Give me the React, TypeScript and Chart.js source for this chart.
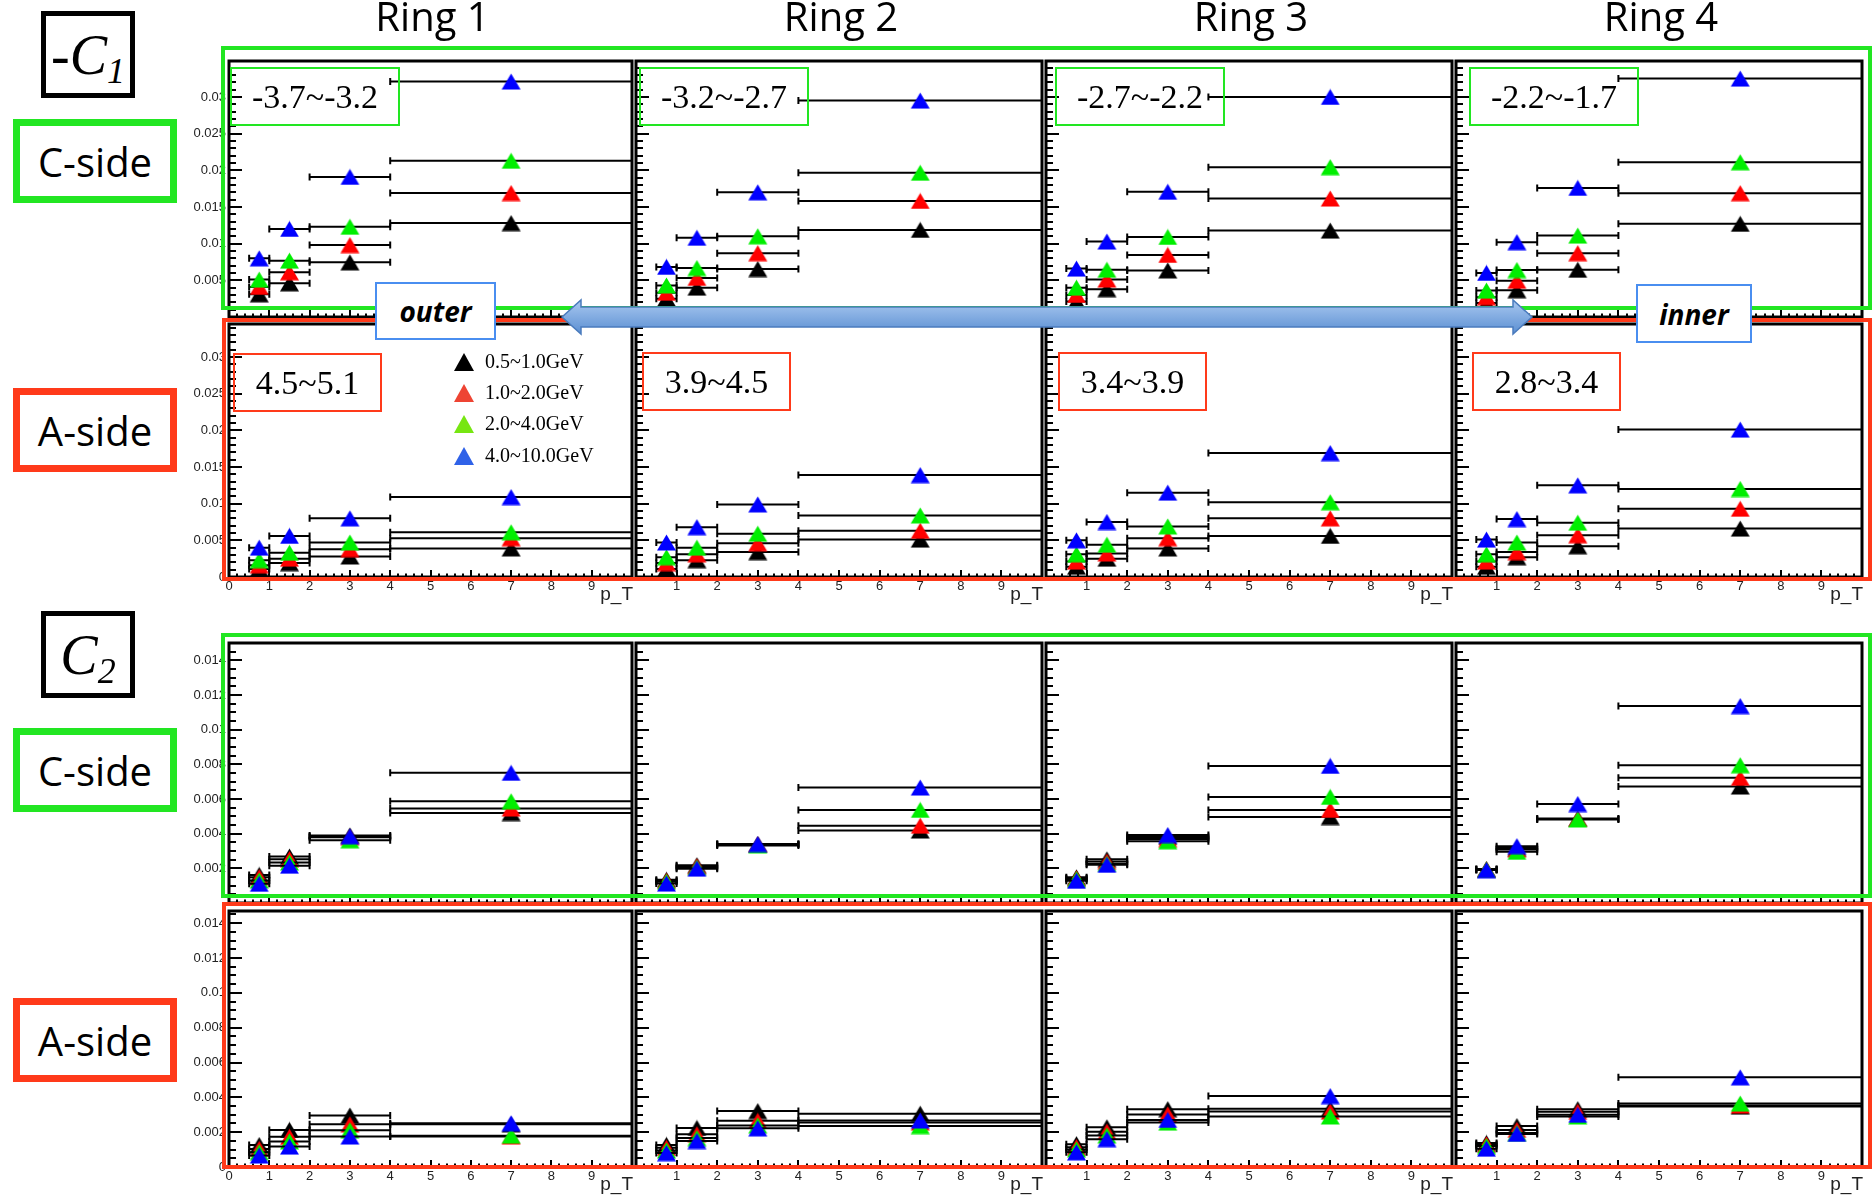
import React, { useEffect, useRef } from 'react';
import { Chart, registerables } from 'chart.js';

Chart.register(...registerables);

// ---------------- data ----------------
const ptBinCenters = [0.75, 1.5, 3, 7];
const ptBinLow = [0.5, 1, 2, 4];
const ptBinHigh = [1, 2, 4, 10];
const seriesLabels = ['0.5~1.0GeV', '1.0~2.0GeV', '2.0~4.0GeV', '4.0~10.0GeV'];
const ringTitles = ['Ring 1', 'Ring 2', 'Ring 3', 'Ring 4'];
const cSideEtaRanges = ['-3.7~-3.2', '-3.2~-2.7', '-2.7~-2.2', '-2.2~-1.7'];
const aSideEtaRanges = ['4.5~5.1', '3.9~4.5', '3.4~3.9', '2.8~3.4'];
const xTickLabels = ['0', '1', '2', '3', '4', '5', '6', '7', '8', '9'];
const c1YTickLabels = ['0', '0.005', '0.01', '0.015', '0.02', '0.025', '0.03'];
const c2YTickLabels = ['0', '0.002', '0.004', '0.006', '0.008', '0.01', '0.012', '0.014'];

// each: [black, red, green, blue] x pT bins
const c1CSideRing1 = [
  [0.0031, 0.0046, 0.00745, 0.0128],
  [0.0041, 0.0061, 0.0098, 0.0169],
  [0.0051, 0.00768, 0.0123, 0.0213],
  [0.008, 0.012, 0.0191, 0.0321],
];
const c1CSideRing2 = [
  [0.0025, 0.004, 0.00654, 0.01187],
  [0.0033, 0.00533, 0.0087, 0.01582],
  [0.0043, 0.00668, 0.011, 0.01966],
  [0.00683, 0.0108, 0.017, 0.0295],
];
const c1CSideRing3 = [
  [0.0021, 0.0038, 0.00635, 0.01178],
  [0.003, 0.0051, 0.00846, 0.01615],
  [0.004, 0.00644, 0.01091, 0.02043],
  [0.0066, 0.01029, 0.01707, 0.03],
];
const c1CSideRing4 = [
  [0.0019, 0.00365, 0.00644, 0.0127],
  [0.0027, 0.00495, 0.0087, 0.01688],
  [0.0036, 0.0064, 0.0111, 0.0211],
  [0.006, 0.0102, 0.0176, 0.0325],
];
const c1ASideRing1 = [
  [0.0011, 0.0019, 0.0028, 0.0039],
  [0.0016, 0.0025, 0.0038, 0.0053],
  [0.0023, 0.0033, 0.0047, 0.0061],
  [0.004, 0.0056, 0.008, 0.0109],
];
const c1ASideRing2 = [
  [0.0011, 0.0023, 0.0034, 0.0051],
  [0.0019, 0.0031, 0.0046, 0.0063],
  [0.0027, 0.004, 0.0059, 0.0084],
  [0.0047, 0.0068, 0.0099, 0.0139],
];
const c1ASideRing3 = [
  [0.0014, 0.0025, 0.0039, 0.0056],
  [0.0021, 0.0032, 0.0053, 0.008],
  [0.0031, 0.0044, 0.0069, 0.0102],
  [0.005, 0.0075, 0.0115, 0.0169],
];
const c1ASideRing4 = [
  [0.0014, 0.0027, 0.0042, 0.0066],
  [0.0021, 0.0034, 0.0057, 0.0093],
  [0.0031, 0.0047, 0.0074, 0.012],
  [0.0051, 0.0079, 0.0125, 0.0201],
];
const c2CSideRing1 = [
  [0.00162, 0.00268, 0.0039, 0.00519],
  [0.00149, 0.00253, 0.0038, 0.00545],
  [0.0013, 0.00234, 0.00362, 0.00587],
  [0.00111, 0.00215, 0.00385, 0.00751],
];
const c2CSideRing2 = [
  [0.00134, 0.00218, 0.0034, 0.00418],
  [0.00128, 0.00212, 0.00338, 0.00446],
  [0.00122, 0.00204, 0.00332, 0.00537],
  [0.00112, 0.00198, 0.0034, 0.00666],
];
const c2CSideRing3 = [
  [0.00148, 0.00252, 0.00381, 0.00496],
  [0.00143, 0.00239, 0.00369, 0.00537],
  [0.00138, 0.00226, 0.00356, 0.00612],
  [0.00128, 0.0022, 0.00392, 0.00791],
];
const c2CSideRing4 = [
  [0.00196, 0.00317, 0.00487, 0.00672],
  [0.00194, 0.00308, 0.00485, 0.00722],
  [0.00192, 0.00295, 0.00482, 0.00795],
  [0.0019, 0.00328, 0.00571, 0.01136],
];
const c2ASideRing1 = [
  [0.00126, 0.00213, 0.00296, 0.00245],
  [0.00104, 0.00173, 0.00245, 0.00175],
  [0.00085, 0.00147, 0.00211, 0.0018],
  [0.00066, 0.00117, 0.00175, 0.00251],
];
const c2ASideRing2 = [
  [0.00127, 0.00224, 0.00321, 0.00306],
  [0.0011, 0.00188, 0.00265, 0.00256],
  [0.00095, 0.00166, 0.00239, 0.00235],
  [0.0008, 0.00149, 0.00222, 0.00267],
];
const c2ASideRing3 = [
  [0.00131, 0.00228, 0.00332, 0.00334],
  [0.00114, 0.00203, 0.00302, 0.00318],
  [0.00101, 0.00181, 0.00255, 0.0029],
  [0.00084, 0.0016, 0.0027, 0.00407],
];
const c2ASideRing4 = [
  [0.00138, 0.00235, 0.00332, 0.00347],
  [0.0013, 0.00213, 0.00317, 0.00353],
  [0.0012, 0.00195, 0.0029, 0.00364],
  [0.00105, 0.0019, 0.003, 0.00515],
];

// ---------------- layout / style ----------------
const markerColors = ['#000000', '#ff0000', '#00ee00', '#0000ff'];
const legendColors = ['#000000', '#ee4433', '#77e612', '#2f62e8'];
const GREEN = '#22e622';
const RED = '#ff3a1a';
const panelLeft = [229, 636, 1046, 1456];
const panelRight = [636, 1046, 1456, 1866];
const PAD_L = 52, PAD_R = 6, PAD_T = 6, PAD_B = 36;

type RowCfg = {
  top: number; bottom: number; ymax: number; major: number; minor: number;
  yLabels: string[]; showZero: boolean; showX: boolean; panels: number[][][];
};

const rows: RowCfg[] = [
  { top: 57, bottom: 317, ymax: 0.0349, major: 0.005, minor: 0.001, yLabels: c1YTickLabels, showZero: false, showX: false,
    panels: [c1CSideRing1, c1CSideRing2, c1CSideRing3, c1CSideRing4] },
  { top: 320, bottom: 577, ymax: 0.0345, major: 0.005, minor: 0.001, yLabels: c1YTickLabels, showZero: true, showX: true,
    panels: [c1ASideRing1, c1ASideRing2, c1ASideRing3, c1ASideRing4] },
  { top: 639, bottom: 903, ymax: 0.015, major: 0.002, minor: 0.0005, yLabels: c2YTickLabels, showZero: false, showX: false,
    panels: [c2CSideRing1, c2CSideRing2, c2CSideRing3, c2CSideRing4] },
  { top: 907, bottom: 1167, ymax: 0.0147, major: 0.002, minor: 0.0005, yLabels: c2YTickLabels, showZero: true, showX: true,
    panels: [c2ASideRing1, c2ASideRing2, c2ASideRing3, c2ASideRing4] },
];

function makeTriangle(color: string): HTMLCanvasElement {
  const c = document.createElement('canvas');
  c.width = 21; c.height = 17;
  const g = c.getContext('2d')!;
  g.fillStyle = color;
  g.beginPath();
  g.moveTo(1, 16.5); g.lineTo(20, 16.5); g.lineTo(10.5, 0.5); g.closePath();
  g.fill();
  return c;
}

const rootAxesPlugin = {
  id: 'rootAxes',
  beforeDatasetsDraw(chart: any, _args: any, opts: any) {
    const { ctx, chartArea: a, scales } = chart;
    const x = scales.x, y = scales.y;
    ctx.save();
    ctx.strokeStyle = '#000';
    ctx.lineWidth = 2;
    ctx.beginPath();
    const nMinor = Math.floor(opts.ymax / opts.minor + 1e-6);
    const per = Math.round(opts.major / opts.minor);
    for (let k = 0; k <= nMinor; k++) {
      const py = Math.round(y.getPixelForValue(k * opts.minor));
      const len = k % per === 0 ? 13 : 7;
      ctx.moveTo(a.left, py); ctx.lineTo(a.left + len, py);
    }
    for (let k = 0; k <= 50; k++) {
      const px = Math.round(x.getPixelForValue(k * 0.2));
      const len = k % 5 === 0 ? 7 : 3.5;
      ctx.moveTo(px, a.bottom); ctx.lineTo(px, a.bottom - len);
    }
    ctx.stroke();
    ctx.lineWidth = 3;
    ctx.strokeRect(a.left, a.top, a.right - a.left, a.bottom - a.top);
    ctx.restore();
  },
  beforeDatasetDraw(chart: any, args: any) {
    const { ctx, chartArea: a, scales } = chart;
    const ds = chart.data.datasets[args.index];
    const meta = args.meta;
    ctx.save();
    ctx.beginPath();
    ctx.rect(a.left, a.top - 2, a.right - a.left, a.bottom - a.top + 4);
    ctx.clip();
    ctx.strokeStyle = '#000';
    ctx.lineWidth = 2;
    ctx.beginPath();
    meta.data.forEach((el: any, i: number) => {
      const raw = ds.data[i];
      const x1 = scales.x.getPixelForValue(raw.xLow);
      const x2 = scales.x.getPixelForValue(raw.xHigh);
      const py = el.y;
      ctx.moveTo(x1, py); ctx.lineTo(x2, py);
      ctx.moveTo(x1, py - 3.5); ctx.lineTo(x1, py + 3.5);
      ctx.moveTo(x2, py - 3.5); ctx.lineTo(x2, py + 3.5);
    });
    ctx.stroke();
    ctx.restore();
  },
  afterDraw(chart: any, _args: any, opts: any) {
    const { ctx, chartArea: a, scales } = chart;
    ctx.save();
    ctx.fillStyle = '#222';
    if (opts.showY) {
      ctx.font = '13px "Liberation Sans", Arial, sans-serif';
      ctx.textAlign = 'right';
      ctx.textBaseline = 'middle';
      opts.yLabels.forEach((lab: string) => {
        const v = parseFloat(lab);
        if (v === 0 && !opts.showZero) return;
        ctx.fillText(lab, a.left - 3, scales.y.getPixelForValue(v));
      });
    }
    if (opts.showX) {
      ctx.font = '13px "Liberation Sans", Arial, sans-serif';
      ctx.textAlign = 'center';
      ctx.textBaseline = 'top';
      xTickLabels.forEach((lab: string) => {
        const v = parseFloat(lab);
        if (v === 0 && !opts.showY) return;
        ctx.fillText(lab, scales.x.getPixelForValue(v), a.bottom + 3);
      });
      ctx.font = '19px "Liberation Sans", Arial, sans-serif';
      ctx.textAlign = 'right';
      ctx.textBaseline = 'alphabetic';
      ctx.fillText('p_T', a.right + 1, a.bottom + 23);
    }
    ctx.restore();
  },
};

function Panel({ row, ring }: { row: number; ring: number }) {
  const ref = useRef<HTMLCanvasElement>(null);
  const cfg = rows[row];
  const L = panelLeft[ring], R = panelRight[ring];
  const w = R - L + PAD_L + PAD_R;
  const h = cfg.bottom - cfg.top + PAD_T + PAD_B;
  useEffect(() => {
    const values = cfg.panels[ring];
    const tris = markerColors.map(makeTriangle);
    const chart = new Chart(ref.current!, {
      type: 'scatter',
      data: {
        datasets: seriesLabels.map((label, s) => ({
          label,
          data: ptBinCenters.map((x, i) => ({ x, y: values[s][i], xLow: ptBinLow[i], xHigh: ptBinHigh[i] })),
          pointStyle: tris[s],
          pointRadius: 9,
          order: 4 - s,
          showLine: false,
        })),
      } as any,
      options: {
        animation: false,
        responsive: false,
        devicePixelRatio: 1,
        events: [],
        layout: { padding: { left: PAD_L, right: PAD_R, top: PAD_T, bottom: PAD_B } },
        scales: {
          x: { type: 'linear', min: 0, max: 10, display: false },
          y: { type: 'linear', min: 0, max: cfg.ymax, display: false },
        },
        plugins: {
          legend: { display: false },
          title: { display: false },
          tooltip: { enabled: false },
          rootAxes: {
            ymax: cfg.ymax, major: cfg.major, minor: cfg.minor,
            yLabels: cfg.yLabels, showZero: cfg.showZero, showX: cfg.showX, showY: ring === 0,
          },
        } as any,
      },
      plugins: [rootAxesPlugin as any],
    });
    return () => chart.destroy();
  }, []);
  return (
    <canvas
      ref={ref}
      width={w}
      height={h}
      style={{ position: 'absolute', left: L - PAD_L, top: cfg.top - PAD_T, width: w, height: h }}
    />
  );
}

const abs = (l: number, t: number, w: number, h: number): React.CSSProperties => ({
  position: 'absolute', left: l, top: t, width: w, height: h, boxSizing: 'border-box',
});

function SideBox({ l, t, text, color }: { l: number; t: number; text: string; color: string }) {
  return (
    <div style={{ ...abs(l, t, 164, 84), border: `7px solid ${color}`, background: '#fff', display: 'flex',
      alignItems: 'center', justifyContent: 'center', font: '40px "Open Sans", sans-serif', color: '#000' }}>
      {text}
    </div>
  );
}

function CoefBox({ t, sign, sub }: { t: number; sign: string; sub: string }) {
  return (
    <div style={{ ...abs(41, t, 94, 87), border: '5px solid #000', background: '#fff', display: 'flex',
      alignItems: 'center', justifyContent: 'center', fontFamily: '"Liberation Serif", serif', color: '#000' }}>
      <span style={{ fontSize: 56, fontStyle: 'italic', lineHeight: '56px' }}>{sign}C</span>
      <span style={{ fontSize: 36, fontStyle: 'italic', lineHeight: '36px', position: 'relative', top: 16 }}>{sub}</span>
    </div>
  );
}

const rangeBoxC = [[230, 67], [639, 67], [1055, 67], [1469, 67]];
const rangeBoxA = [[233, 353], [642, 352], [1058, 352], [1472, 352]];

export default function App() {
  const legendRows = [362, 393, 424, 456];
  return (
    <div style={{ position: 'absolute', left: 0, top: 0, width: 1872, height: 1196, background: '#fff', overflow: 'hidden' }}>
      {rows.map((_, r) => [0, 1, 2, 3].map((k) => <Panel key={`${r}-${k}`} row={r} ring={k} />))}

      {/* row frames */}
      <div style={{ ...abs(221, 46, 1651, 264), border: `4px solid ${GREEN}` }} />
      <div style={{ ...abs(222, 318, 1650, 263), border: `4px solid ${RED}` }} />
      <div style={{ ...abs(221, 633, 1651, 265), border: `4px solid ${GREEN}` }} />
      <div style={{ ...abs(222, 902, 1650, 267), border: `4px solid ${RED}` }} />

      {/* eta range boxes */}
      {cSideEtaRanges.map((t, i) => (
        <div key={'c' + i} style={{ ...abs(rangeBoxC[i][0], rangeBoxC[i][1], 170, 59), border: `2px solid ${GREEN}`,
          display: 'flex', alignItems: 'center', justifyContent: 'center', background: 'transparent',
          font: '34px "Liberation Serif", serif', color: '#000' }}>{t}</div>
      ))}
      {aSideEtaRanges.map((t, i) => (
        <div key={'a' + i} style={{ ...abs(rangeBoxA[i][0], rangeBoxA[i][1], 149, 59), border: `2px solid ${RED}`,
          display: 'flex', alignItems: 'center', justifyContent: 'center',
          font: '34px "Liberation Serif", serif', color: '#000' }}>{t}</div>
      ))}

      {/* legend */}
      {seriesLabels.map((t, i) => (
        <React.Fragment key={'lg' + i}>
          <svg style={{ position: 'absolute', left: 454, top: legendRows[i] - 9, width: 20, height: 18 }}>
            <polygon points="0,18 20,18 10,0" fill={legendColors[i]} />
          </svg>
          <div style={{ position: 'absolute', left: 485, top: legendRows[i] - 12, height: 24, lineHeight: '24px',
            font: '20px "Liberation Serif", serif', color: '#000', whiteSpace: 'nowrap' }}>{t}</div>
        </React.Fragment>
      ))}

      {/* arrow */}
      <svg style={{ position: 'absolute', left: 0, top: 0, width: 1872, height: 1196, pointerEvents: 'none' }}>
        <defs>
          <linearGradient id="arrG" x1="0" y1="0" x2="0" y2="1">
            <stop offset="0" stopColor="#a9c8f0" />
            <stop offset="1" stopColor="#5b8fd2" />
          </linearGradient>
        </defs>
        <polygon
          points="562,317 581,300 581,307 1513,307 1513,300 1532,317 1513,334 1513,327 581,327 581,334"
          fill="url(#arrG)" stroke="#4a7bbd" strokeWidth="1.5" />
      </svg>

      {/* outer / inner */}
      <div style={{ ...abs(375, 282, 121, 58), border: '2px solid #4a8ef0', background: '#fff', display: 'flex',
        alignItems: 'center', justifyContent: 'center', font: 'italic bold 28px "Open Sans", sans-serif', color: '#000' }}>outer</div>
      <div style={{ ...abs(1636, 284, 116, 59), border: '2px solid #4a8ef0', background: '#fff', display: 'flex',
        alignItems: 'center', justifyContent: 'center', font: 'italic bold 28px "Open Sans", sans-serif', color: '#000' }}>inner</div>

      {/* left labels */}
      <CoefBox t={11} sign="-" sub="1" />
      <SideBox l={13} t={119} text="C-side" color={GREEN} />
      <SideBox l={13} t={388} text="A-side" color={RED} />
      <CoefBox t={611} sign="" sub="2" />
      <SideBox l={13} t={728} text="C-side" color={GREEN} />
      <SideBox l={13} t={998} text="A-side" color={RED} />

      {/* ring titles */}
      {ringTitles.map((t, i) => (
        <div key={'rt' + i} style={{ position: 'absolute', left: (panelLeft[i] + panelRight[i]) / 2 - 100, width: 200, top: -4,
          textAlign: 'center', font: '40px "Open Sans", sans-serif', lineHeight: '40px', color: '#000' }}>{t}</div>
      ))}
    </div>
  );
}
